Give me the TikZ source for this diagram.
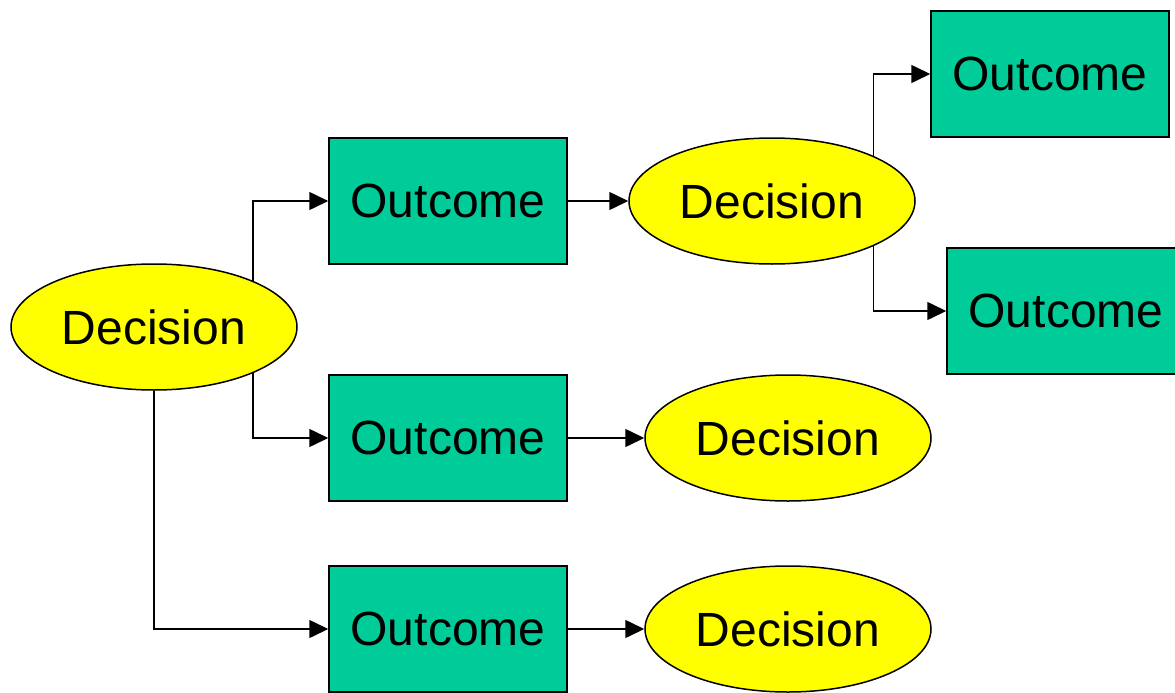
\documentclass[tikz,border=0pt]{standalone}
\usepackage{fontspec}
\setmainfont{Liberation Sans}
\usetikzlibrary{shapes.geometric,arrows.meta}
\definecolor{boxgreen}{HTML}{00CC99}
\definecolor{ellyellow}{HTML}{FFFF00}
\tikzset{
  outbox/.style={draw=black, line width=1.5pt, fill=boxgreen, minimum width=238pt, minimum height=126pt, inner sep=0pt, font=\fontsize{48}{52}\selectfont},
  decell/.style={draw=black, line width=1.5pt, fill=ellyellow, ellipse, minimum width=286pt, minimum height=126pt, inner sep=0pt, font=\fontsize{48}{52}\selectfont},
  arr/.style={line width=1.5pt, -{Triangle[length=19pt,width=18pt]}}
}
\begin{document}
\begin{tikzpicture}[x=1pt,y=-1pt]
\useasboundingbox (0,0) rectangle (1175,693);
\fill[white] (0,0) rectangle (1175,693);
\node[decell] (root) at (154,327) {Decision};
\node[outbox] (o1) at (448,201) {Outcome};
\node[decell] (d2) at (772,201) {Decision};
\node[outbox] (o4) at (1050,74) {Outcome};
\node[outbox] (o5) at (1066,311) {Outcome};
\node[outbox] (o2) at (448,438) {Outcome};
\node[decell] (d3) at (788,438) {Decision};
\node[outbox] (o3) at (448,629) {Outcome};
\node[decell] (d4) at (788,629) {Decision};
\draw[arr] (root.25.5) |- (o1.west);
\draw[arr] (root.-25.5) |- (o2.west);
\draw[arr] (root.south) |- (o3.west);
\draw[arr] (o1.east) -- (d2.west);
\draw[arr] (d2.24.5) |- (o4.west);
\draw[arr] (d2.-24.5) |- (o5.west);
\draw[arr] (o2.east) -- (d3.west);
\draw[arr] (o3.east) -- (d4.west);
\end{tikzpicture}
\end{document}
